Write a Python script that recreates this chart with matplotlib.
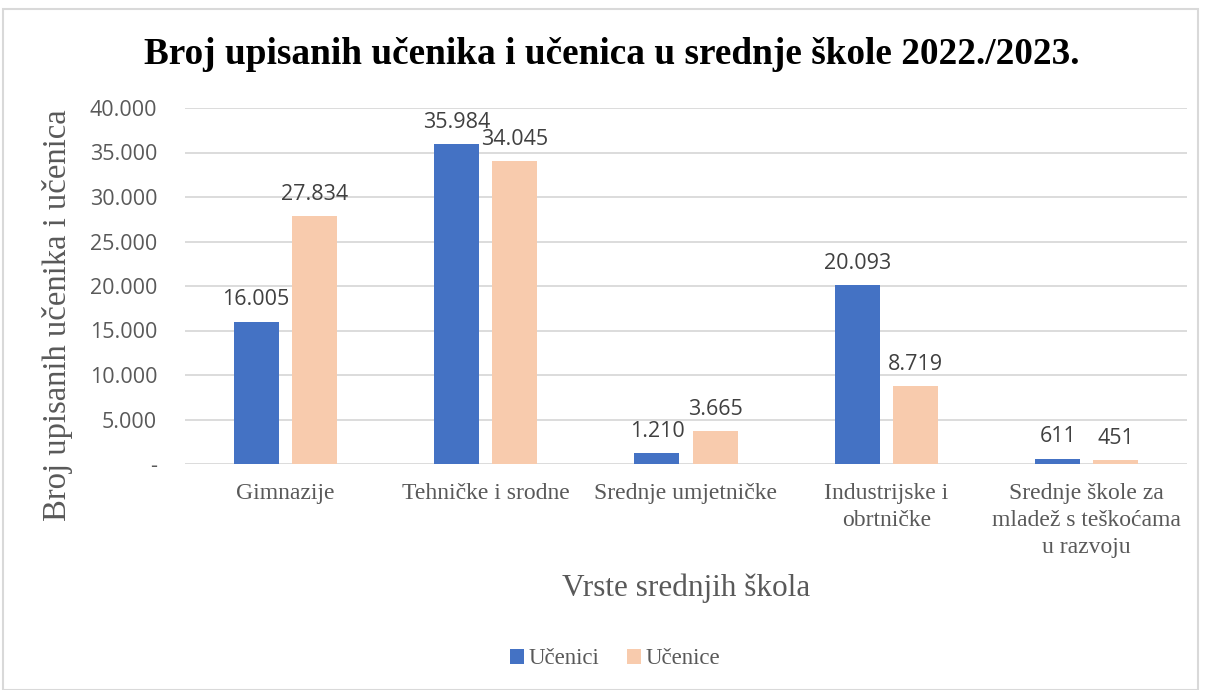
import numpy as np
import matplotlib.pyplot as plt
from matplotlib.patches import Rectangle

# --- DATA ---
categories = ['Gimnazije', 'Tehničke i srodne', 'Srednje umjetničke',
              'Industrijske i\nobrtničke', 'Srednje škole za\nmladež s teškoćama\nu razvoju']
ucenici = [16005, 35984, 1210, 20093, 611]
ucenice = [27834, 34045, 3665, 8719, 451]
yticks = [0, 5000, 10000, 15000, 20000, 25000, 30000, 35000, 40000]

BLUE = '#4472C4'
PEACH = '#F8CBAD'
GRAY = '#595959'
SERIF = 'Liberation Serif'
SANS = 'Open Sans'

def fmt(v):
    return '-' if v == 0 else f"{v:,}".replace(',', '.')

fig = plt.figure(figsize=(12.06, 6.9), dpi=100, facecolor='white')
ax = fig.add_axes([185 / 1206, 1 - 464 / 690, 1002 / 1206, 356 / 690])

# outer chart border
fig.patches.append(Rectangle((3 / 1206, 0), 1195 / 1206, 1 - 9 / 690, transform=fig.transFigure,
                             fill=False, edgecolor='#D9D9D9', linewidth=1.5))

x = np.arange(len(categories))
w = 0.225
off = 0.145
b1 = ax.bar(x - off, ucenici, w, color=BLUE, label='Učenici', zorder=3)
b2 = ax.bar(x + off, ucenice, w, color=PEACH, label='Učenice', zorder=3)

for bars in (b1, b2):
    for r in bars:
        v = r.get_height()
        ax.annotate(fmt(int(v)), (r.get_x() + r.get_width() / 2, v), xytext=(0, 8),
                    textcoords='offset points', ha='center', va='bottom',
                    fontsize=15.5, color='#404040', family=SANS)

ax.set_xlim(-0.5, len(categories) - 0.5)
ax.set_ylim(0, 40000)
ax.set_yticks(yticks)
ax.set_yticklabels([fmt(v) for v in yticks], family=SANS, fontsize=15.5, color=GRAY)
ax.set_xticks(x)
ax.set_xticklabels(categories, family=SERIF, fontsize=17, color=GRAY, linespacing=1.35)
ax.tick_params(axis='both', length=0)
ax.tick_params(axis='y', pad=20)
ax.tick_params(axis='x', pad=14)
ax.grid(axis='y', color='#D9D9D9', linewidth=1.3, zorder=0)
for s in ax.spines.values():
    s.set_visible(False)

ax.set_ylabel('Broj upisanih učenika i učenica', family=SERIF, fontsize=23.5, color=GRAY,
              va='center', ha='center')
ax.yaxis.set_label_coords(-0.127, 0.419)
ax.set_xlabel('Vrste srednjih škola', family=SERIF, fontsize=22.5, color=GRAY)
ax.xaxis.set_label_coords(0.5, -(588 - 464) / 356)
ax.xaxis.label.set_va('center')

fig.text(612 / 1206, 1 - 54 / 690, 'Broj upisanih učenika i učenica u srednje škole 2022./2023.',
         ha='center', va='center', family=SERIF, fontsize=26.8, fontweight='bold', color='black')

leg = fig.legend(handles=[b1, b2], loc='center', bbox_to_anchor=(615 / 1206, 1 - 659 / 690),
                 ncol=2, frameon=False, prop={'family': SERIF, 'size': 16.5},
                 handlelength=0.6, handleheight=0.6, handletextpad=0.2, columnspacing=1.2)
for t in leg.get_texts():
    t.set_color(GRAY)

fig.savefig('out.png', dpi=100, facecolor='white')
